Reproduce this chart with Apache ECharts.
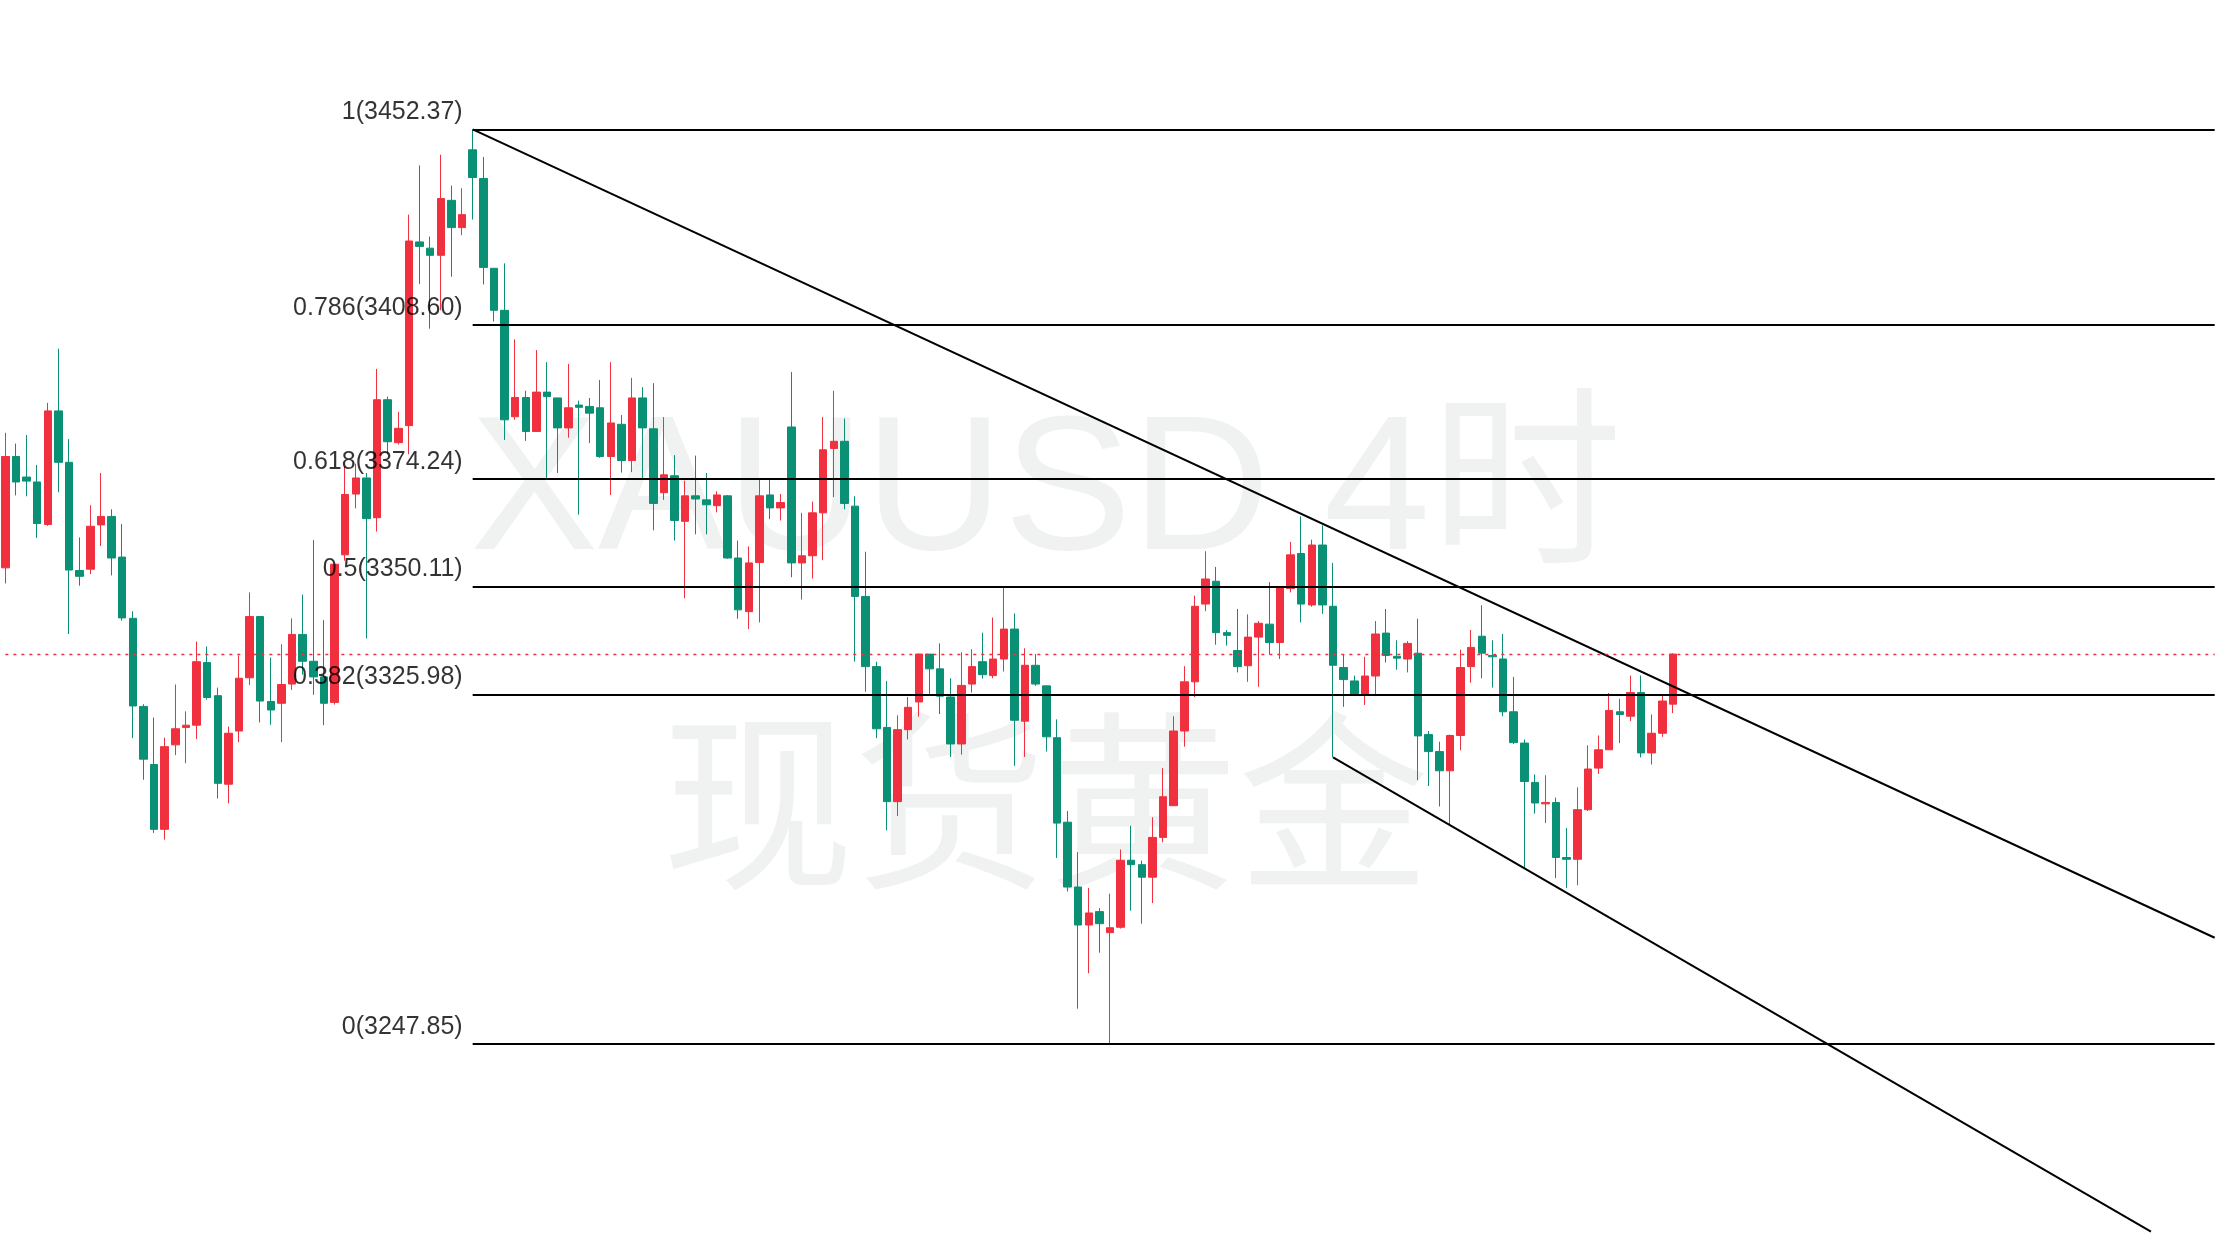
<!DOCTYPE html>
<html><head><meta charset="utf-8">
<script src="https://cdn.jsdelivr.net/npm/echarts@6/dist/echarts.min.js"></script>
<style>html,body{margin:0;padding:0;background:#fff}#c{width:2220px;height:1242px}</style>
</head><body><div id="c"></div>
<script>
// [open, close, low, high]
const candles = [
[3354.3,3379.2,3350.8,3384.5],[3379.2,3373.5,3370.5,3382.1],[3374.6,3373.7,3370.3,3384.0],[3373.5,3364.2,3361.0,3377.3],
[3364.0,3389.4,3363.7,3391.2],[3389.4,3377.9,3371.2,3403.3],[3377.9,3353.8,3339.5,3383.1],[3353.7,3352.4,3350.3,3361.1],
[3354.0,3363.6,3352.9,3368.3],[3363.9,3365.8,3359.2,3375.5],[3365.8,3356.5,3352.6,3367.4],[3356.7,3343.1,3342.5,3364.1],
[3343.0,3323.4,3316.2,3344.6],[3323.3,3311.5,3306.9,3323.8],[3310.3,3295.8,3295.0,3320.8],[3295.8,3314.3,3293.5,3316.3],
[3314.7,3318.3,3312.4,3328.2],[3318.6,3319.1,3310.6,3322.2],[3319.1,3333.3,3316.0,3337.8],[3333.1,3325.3,3324.8,3336.7],
[3325.7,3306.1,3302.7,3327.5],[3305.9,3317.3,3301.6,3318.8],[3317.8,3329.6,3315.3,3334.7],[3329.7,3343.4,3328.1,3348.8],
[3343.4,3324.5,3319.7,3343.4],[3324.4,3322.5,3319.2,3334.2],[3324.0,3328.2,3315.3,3337.2],[3328.3,3339.4,3327.0,3343.0],
[3339.4,3333.4,3330.4,3348.3],[3333.4,3329.9,3325.9,3360.5],[3329.9,3324.0,3319.1,3342.6],[3324.2,3355.1,3323.7,3355.1],
[3357.2,3370.7,3355.9,3377.0],[3370.8,3374.4,3367.6,3377.6],[3374.4,3365.3,3338.5,3375.5],[3365.5,3391.9,3362.4,3398.8],
[3391.9,3382.5,3379.7,3392.6],[3382.3,3385.5,3381.9,3389.2],[3386.1,3427.4,3379.7,3433.3],[3427.2,3426.2,3417.8,3444.3],
[3425.8,3424.2,3407.8,3428.4],[3424.2,3436.9,3411.9,3446.7],[3436.5,3430.4,3419.4,3439.8],[3430.4,3433.3,3428.7,3439.2],
[3447.8,3441.6,3432.2,3452.3],[3441.4,3421.5,3417.7,3446.2],[3421.3,3411.9,3409.4,3421.3],[3411.9,3387.4,3382.9,3422.4],
[3388.1,3392.4,3387.4,3405.4],[3392.4,3384.8,3382.7,3393.9],[3384.8,3393.6,3384.8,3403.0],[3393.6,3392.6,3374.4,3400.3],
[3392.3,3385.6,3375.5,3392.3],[3385.6,3390.1,3383.4,3399.9],[3390.7,3390.2,3366.2,3391.7],[3390.4,3388.9,3382.2,3392.3],
[3390.1,3379.2,3378.9,3396.3],[3379.2,3386.7,3370.6,3400.3],[3386.4,3378.3,3375.6,3388.5],[3378.3,3392.3,3375.7,3396.8],
[3392.3,3385.6,3374.1,3394.7],[3385.4,3368.7,3362.7,3395.6],[3371.1,3375.1,3369.5,3388.0],[3374.9,3364.9,3360.4,3379.5],
[3364.7,3370.4,3347.5,3373.8],[3370.4,3369.7,3361.8,3379.4],[3369.5,3368.4,3361.8,3375.5],[3368.2,3370.6,3366.7,3371.4],
[3370.4,3356.5,3356.3,3370.6],[3356.5,3344.9,3342.9,3360.4],[3344.5,3355.4,3340.6,3359.1],[3355.5,3370.4,3342.1,3374.0],
[3370.6,3367.7,3365.2,3374.3],[3367.7,3368.9,3364.9,3370.8],[3385.8,3355.4,3352.2,3398.1],[3355.4,3357.0,3347.2,3366.6],
[3357.0,3366.6,3351.9,3369.1],[3366.6,3380.7,3356.0,3388.0],[3381.0,3382.6,3370.1,3393.9],[3382.6,3368.7,3367.4,3387.7],
[3368.1,3347.9,3333.3,3370.3],[3347.9,3332.2,3326.6,3357.9],[3332.2,3318.3,3316.2,3333.3],[3318.6,3302.0,3295.6,3329.0],
[3302.0,3318.1,3298.8,3321.3],[3318.1,3323.1,3315.9,3325.4],[3324.3,3335.0,3321.0,3335.0],[3335.0,3331.7,3326.1,3335.0],
[3331.7,3325.6,3321.6,3337.4],[3325.4,3314.9,3312.0,3329.6],[3314.9,3328.0,3312.5,3335.4],[3328.3,3332.2,3326.4,3336.1],
[3333.3,3330.4,3329.5,3339.8],[3330.2,3333.9,3329.6,3343.2],[3333.9,3340.6,3331.1,3350.2],[3340.6,3320.2,3310.0,3344.1],
[3320.0,3332.5,3312.0,3336.3],[3332.5,3328.3,3327.9,3335.0],[3327.9,3316.5,3313.2,3327.9],[3316.3,3297.2,3289.4,3320.4],
[3297.4,3282.9,3281.9,3299.9],[3282.9,3274.4,3255.7,3290.7],[3274.4,3277.1,3263.6,3282.7],[3277.4,3274.7,3268.2,3278.2],
[3272.7,3273.8,3247.9,3281.4],[3273.9,3288.9,3273.6,3291.3],[3288.9,3287.9,3277.6,3296.6],[3287.9,3285.1,3274.7,3288.8],
[3285.1,3294.0,3279.3,3298.5],[3294.0,3303.1,3292.9,3309.5],[3301.1,3317.8,3301.1,3321.1],[3317.8,3328.8,3314.3,3332.3],
[3328.8,3345.7,3325.4,3348.1],[3346.2,3351.8,3344.6,3358.0],[3351.3,3339.8,3337.1,3354.5],[3339.8,3339.2,3336.9,3340.4],
[3335.8,3332.2,3330.9,3345.1],[3332.4,3338.8,3328.8,3343.9],[3338.8,3341.9,3327.7,3342.4],[3341.7,3337.6,3335.0,3351.1],
[3337.6,3349.8,3333.9,3350.2],[3349.7,3357.2,3348.8,3360.1],[3357.5,3346.2,3342.1,3365.8],[3346.0,3359.4,3345.6,3360.6],
[3359.4,3346.0,3344.0,3363.8],[3345.7,3332.5,3311.9,3355.4],[3332.0,3329.3,3323.2,3334.9],[3329.0,3325.8,3325.6,3330.2],
[3326.1,3330.1,3323.6,3334.4],[3330.1,3339.5,3326.1,3342.4],[3339.7,3334.7,3333.1,3345.1],[3334.5,3334.1,3331.5,3338.1],
[3333.9,3337.4,3330.9,3337.9],[3335.2,3316.7,3306.8,3342.9],[3317.0,3313.2,3305.5,3317.8],[3313.2,3308.9,3300.9,3315.4],
[3308.9,3316.8,3296.9,3317.0],[3316.8,3332.0,3313.5,3336.0],[3332.2,3336.5,3328.6,3340.4],[3339.0,3335.2,3329.6,3345.9],
[3334.7,3334.4,3327.5,3338.1],[3333.9,3322.1,3321.1,3339.5],[3322.1,3315.2,3314.9,3329.9],[3315.1,3306.5,3287.0,3315.9],
[3306.3,3301.7,3299.3,3308.1],[3301.5,3301.8,3297.2,3307.9],[3301.8,3289.5,3284.9,3302.9],[3289.5,3289.1,3282.7,3296.1],
[3289.1,3300.2,3283.3,3305.2],[3300.2,3309.3,3299.9,3314.6],[3309.5,3313.6,3308.2,3316.8],[3313.6,3322.4,3313.6,3326.3],
[3322.1,3321.5,3315.1,3325.0],[3321.1,3326.4,3320.0,3330.2],[3326.4,3312.9,3311.9,3330.2],[3312.9,3317.3,3310.3,3321.5],
[3317.3,3324.5,3316.5,3325.8],[3323.8,3335.0,3321.8,3335.2]
];
const fibRatios = ['1','0.786','0.618','0.5','0.382','0'];
const fibPrices = [3452.37,3408.60,3374.24,3350.11,3325.98,3247.85];
const highIndex = 44;
const lastPrice = 3335.0;
const upperLine = [[44,3452.37],[208,3271.55]];
const lowerLine = [[125,3311.9],[202,3205.8]];
const totalCats = 209;

const cats = Array.from({length: totalCats}, (_, i) => String(i));
const data = cats.map((_, i) => candles[i] || '-');
const catW = 10.65;

const fibLines = fibPrices.map(p => [{coord:[highIndex, p]},{coord:[totalCats-1, p]}]);
const chart = echarts.init(document.getElementById('c'));
chart.setOption({
  animation:false,
  backgroundColor:'#fff',
  grid:{left:-catW/2, top:0, width: totalCats*catW, height:1242},
  xAxis:{type:'category', data:cats, show:false, boundaryGap:true},
  yAxis:{type:'value', min:3203.5, max:3481.31, show:false, splitLine:{show:false}},
  graphic:[
    {type:'text', z:-10, left:470, top:400, style:{text:'XAUUSD 4时', fill:'#f0f1f1', font:'192px "Liberation Sans", "Noto Sans CJK SC"'}},
    {type:'text', z:-10, left:662, top:705, style:{text:'现货黄金', fill:'#f0f1f1', font:'192px "Noto Sans CJK SC"'}}
  ],
  series:[
    {type:'candlestick', data:data, barWidth:8, z:3,
      itemStyle:{color:'#f0303e', color0:'#0a9074', borderColor:'#f0303e', borderColor0:'#0a9074', borderWidth:1},
      markLine:{symbol:'none', silent:true, animation:false,
        lineStyle:{color:'#000', width:2, type:'solid'}, label:{show:false},
        data: fibLines.concat([
          [{coord:upperLine[0]},{coord:upperLine[1]}],
          [{coord:lowerLine[0]},{coord:lowerLine[1]}],
          [{coord:[0,lastPrice], lineStyle:{color:'#f0303e', type:[3,5], width:1.4}},{coord:[totalCats-1,lastPrice]}]
        ])
      }
    },
    {type:'scatter', symbolSize:0, z:5,
      data: fibPrices.map((p,i) => ({value:[highIndex, p], name: fibRatios[i]+'('+p.toFixed(2)+')'})),
      label:{show:true, position:'left', distance:0, offset:[-10,-17], formatter:p=>p.name,
        color:'#000', fontSize:25, fontFamily:'Liberation Sans'}
    }
  ]
});
</script></body></html>
